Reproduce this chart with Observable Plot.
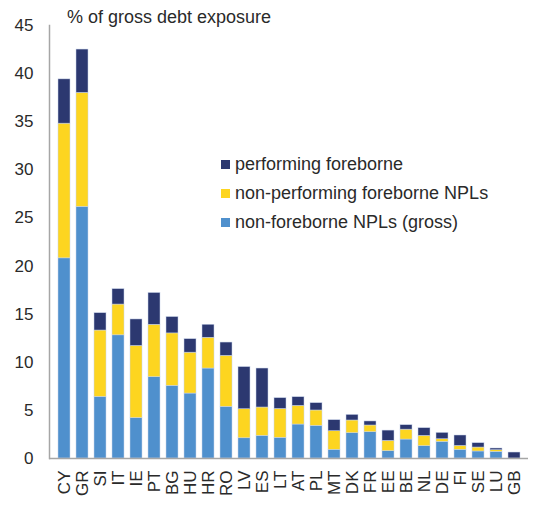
<!DOCTYPE html>
<html>
<head>
<meta charset="utf-8">
<script src="https://cdn.jsdelivr.net/npm/d3@7"></script>
<script src="https://cdn.jsdelivr.net/npm/@observablehq/plot@0.6"></script>
<style>
  body { margin: 0; background: #fff; font-family: "Liberation Sans", Arial, sans-serif; }
  #wrap { position: relative; width: 541px; height: 506px; }
  #title { position: absolute; left: 67px; top: 7px; font-size: 18px; color: #2a2a2a; }
  #legend { position: absolute; left: 221px; top: 150px; font-size: 18px; color: #2a2a2a; }
  .item { display: flex; align-items: center; height: 29px; }
  .sw { width: 9px; height: 9px; margin-right: 5px; }
</style>
</head>
<body>
<div id="wrap">
  <div id="chart"></div>
  <div id="title">% of gross debt exposure</div>
  <div id="legend"></div>
</div>
<script>
const countries = ["CY","GR","SI","IT","IE","PT","BG","HU","HR","RO","LV","ES","LT","AT","PL","MT","DK","FR","EE","BE","NL","DE","FI","SE","LU","GB"];
// non-foreborne NPLs (gross)
const nonForeborneNPL = [20.8,26.15,6.4,12.8,4.2,8.45,7.55,6.75,9.35,5.37,2.1,2.35,2.15,3.53,3.39,0.9,2.63,2.73,0.76,1.97,1.28,1.73,0.9,0.73,0.69,0];
// non-performing foreborne NPLs
const npForeborne = [14.0,11.85,6.9,3.2,7.5,5.45,5.45,4.25,3.2,5.3,3.02,2.95,3.0,1.94,1.6,1.94,1.32,0.7,1.07,1.03,1.07,0.27,0.41,0.41,0.17,0];
// performing foreborne
const perfForeborne = [4.6,4.5,1.8,1.6,2.75,3.3,1.7,1.4,1.35,1.38,4.38,4.05,1.12,0.9,0.76,1.14,0.58,0.42,1.07,0.46,0.8,0.66,1.08,0.45,0.18,0.62];

const seriesNames = ["non-foreborne NPLs (gross)", "non-performing foreborne NPLs", "performing foreborne"];
const seriesColors = ["#4f90cd", "#fdd520", "#2c3870"];
const yTicks = [0,5,10,15,20,25,30,35,40,45];

const data = [];
countries.forEach((c, i) => {
  data.push({country: c, series: seriesNames[0], value: nonForeborneNPL[i]});
  data.push({country: c, series: seriesNames[1], value: npForeborne[i]});
  data.push({country: c, series: seriesNames[2], value: perfForeborne[i]});
});

const chart = Plot.plot({
  width: 541,
  height: 506,
  marginLeft: 49,
  marginRight: 13,
  marginTop: 25,
  marginBottom: 48,
  style: {fontFamily: "'Liberation Sans', Arial, sans-serif", fontSize: "17px", color: "#2a2a2a", background: "#fff"},
  x: {domain: countries, padding: 0.36, label: null},
  y: {domain: [0, 45], label: null},
  color: {domain: seriesNames, range: seriesColors},
  marks: [
    Plot.barY(data, {x: "country", y: "value", fill: "series", z: "series", order: seriesNames, stroke: "#c8d4ea", strokeWidth: 0.5}),
    Plot.axisY({ticks: yTicks, tickSize: 0, tickPadding: 16, label: null, fontSize: 17}),
    Plot.axisX({tickSize: 0, tickPadding: 12, tickRotate: -90, label: null, fontSize: 17}),
    Plot.ruleY([0], {stroke: "#a6a6a6", strokeWidth: 1.5}),
    Plot.frame({anchor: "left", stroke: "#a6a6a6", strokeWidth: 1.5})
  ]
});
document.getElementById("chart").appendChild(chart);

const legend = document.getElementById("legend");
[2,1,0].forEach(i => {
  const d = document.createElement("div");
  d.className = "item";
  d.innerHTML = `<span class="sw" style="background:${seriesColors[i]}"></span><span>${seriesNames[i]}</span>`;
  legend.appendChild(d);
});
</script>
</body>
</html>
